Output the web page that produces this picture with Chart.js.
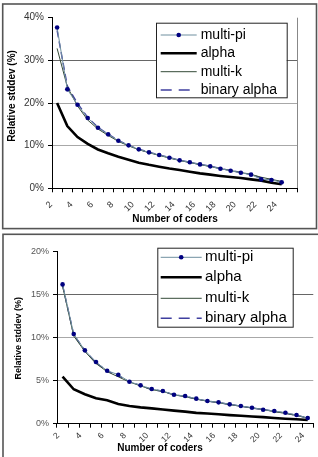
<!DOCTYPE html>
<html>
<head>
<meta charset="utf-8">
<script src="https://cdn.jsdelivr.net/npm/chart.js@4.4.1/dist/chart.umd.min.js"></script>
<style>
  html, body { margin: 0; padding: 0; background: #fff; }
  body { width: 318px; height: 457px; overflow: hidden; position: relative; }
  .box { position: absolute; left: 0; width: 318px; }
  #topBox { top: 0; height: 231px; }
  #bottomBox { top: 231px; height: 226px; }
  canvas { display: block; }
</style>
</head>
<body>
<div class="box" id="topBox"><canvas id="topChart" width="318" height="231"></canvas></div>
<div class="box" id="bottomBox"><canvas id="bottomChart" width="318" height="226"></canvas></div>
<script>
const FONT = "'Liberation Sans', Arial, sans-serif";

// top chart: categories 2..25, data for 2..24
const TOP_CODERS = ["2", "3", "4", "5", "6", "7", "8", "9", "10", "11", "12", "13",
  "14", "15", "16", "17", "18", "19", "20", "21", "22", "23", "24", "25"];
const TOP_MULTI_PI = [37.7, 23.2, 19.6, 16.5, 14.2, 12.65, 11.16, 10.07, 9.13, 8.43, 7.8, 7.17,
  6.55, 6.1, 5.6, 5.15, 4.6, 4.13, 3.66, 3.2, 2.1, 1.95, 1.4];
const TOP_ALPHA = [20.0, 14.6, 12.0, 10.4, 9.1, 8.2, 7.4, 6.7, 6.0, 5.5, 5.06, 4.65,
  4.3, 3.9, 3.5, 3.2, 2.9, 2.65, 2.4, 2.1, 1.8, 1.3, 0.95];
const TOP_MULTI_K = [32.8, 23.8, 19.3, 16.0, 13.9, 12.4, 11.0, 9.95, 9.05, 8.35, 7.7, 7.1,
  6.5, 6.05, 5.55, 5.1, 4.6, 4.15, 3.7, 3.25, 2.6, 2.1, 1.6];
const TOP_BINARY_ALPHA = [37.0, 24.0, 19.9, 16.6, 14.3, 12.7, 11.2, 10.1, 9.15, 8.45, 7.85, 7.2,
  6.6, 6.1, 5.6, 5.2, 4.65, 4.2, 3.7, 3.25, 2.4, 2.0, 1.45];

// bottom chart: categories 2..24
const BOTTOM_CODERS = ["2", "3", "4", "5", "6", "7", "8", "9", "10", "11", "12", "13",
  "14", "15", "16", "17", "18", "19", "20", "21", "22", "23", "24"];
const BOTTOM_MULTI_PI = [16.2, 10.43, 8.53, 7.17, 6.16, 5.7, 4.88, 4.46, 4.03, 3.8, 3.37, 3.22,
  2.91, 2.64, 2.48, 2.25, 2.06, 1.86, 1.63, 1.48, 1.28, 1.01, 0.66];
const BOTTOM_ALPHA = [5.47, 4.0, 3.42, 2.95, 2.72, 2.3, 2.05, 1.9, 1.78, 1.65, 1.52, 1.4,
  1.26, 1.18, 1.09, 1.0, 0.92, 0.83, 0.76, 0.66, 0.58, 0.51, 0.43];
const BOTTOM_MULTI_K = [16.0, 10.2, 8.4, 7.0, 6.05, 5.45, 4.85, 4.4, 3.95, 3.75, 3.35, 3.15,
  2.85, 2.62, 2.45, 2.22, 2.03, 1.82, 1.65, 1.4, 1.2, 0.95, 0.66];
const BOTTOM_BINARY_ALPHA = [16.1, 10.35, 8.5, 7.1, 6.12, 5.58, 4.87, 4.45, 3.98, 3.78, 3.35, 3.18,
  2.88, 2.63, 2.47, 2.24, 2.05, 1.83, 1.65, 1.44, 1.23, 0.97, 0.66];

const SERIES_NAMES = ["multi-pi", "alpha", "multi-k", "binary alpha"];
const Y_TITLE = "Relative stddev (%)";
const X_TITLE = "Number of coders";

// legend box, frame and axis titles drawn on top of the chart
const decorPlugin = {
  id: "decor",
  beforeDraw(chart, args, opts) {
    const ctx = chart.ctx;
    ctx.save();
    ctx.strokeStyle = "#555";
    ctx.lineWidth = 1.6;
    const f = opts.frame;
    ctx.strokeRect(f[0], f[1], f[2], f[3]);
    if (opts.plotRightBorder) {
      const a = chart.chartArea;
      ctx.strokeStyle = "#888";
      ctx.lineWidth = 1;
      ctx.beginPath();
      ctx.moveTo(a.right + 0.5, a.top);
      ctx.lineTo(a.right + 0.5, a.bottom);
      ctx.stroke();
    }
    ctx.restore();
  },
  afterDraw(chart, args, opts) {
    const ctx = chart.ctx;
    const lg = opts.legend;
    ctx.save();
    ctx.fillStyle = "#fff";
    ctx.fillRect(lg.left, lg.top, lg.width, lg.height);
    ctx.strokeStyle = "#222";
    ctx.lineWidth = 1;
    ctx.strokeRect(lg.left + 0.5, lg.top + 0.5, lg.width, lg.height);
    ctx.font = lg.fontSize + "px " + FONT;
    ctx.textBaseline = "middle";
    ctx.textAlign = "left";
    chart.data.datasets.forEach((ds, i) => {
      const y = lg.rows[i];
      ctx.strokeStyle = ds.borderColor;
      ctx.lineWidth = ds.borderWidth;
      ctx.setLineDash(ds.legendDash || []);
      ctx.beginPath();
      ctx.moveTo(lg.lineX0, y);
      ctx.lineTo(lg.lineX1, y);
      ctx.stroke();
      ctx.setLineDash([]);
      if (ds.pointRadius > 0) {
        ctx.fillStyle = ds.pointBackgroundColor;
        ctx.beginPath();
        ctx.arc((lg.lineX0 + lg.lineX1) / 2, y, ds.pointRadius, 0, Math.PI * 2);
        ctx.fill();
      }
      ctx.fillStyle = "#000";
      ctx.fillText(ds.label, lg.textX, y);
    });

    ctx.fillStyle = "#000";
    ctx.font = "bold " + opts.xTitle.size + "px " + FONT;
    ctx.textAlign = "center";
    ctx.fillText(X_TITLE, opts.xTitle.x, opts.xTitle.y);
    ctx.translate(opts.yTitle.x, opts.yTitle.y);
    ctx.rotate(-Math.PI / 2);
    ctx.font = "bold " + opts.yTitle.size + "px " + FONT;
    ctx.fillText(Y_TITLE, 0, 0);
    ctx.restore();
  }
};

function buildDatasets(piData, alphaData, kData, binData) {
  return [
    {
      label: SERIES_NAMES[0], data: piData,
      borderColor: "#6f8f9f", borderWidth: 1,
      pointRadius: 2.3, pointBackgroundColor: "#000080", pointBorderColor: "#000080",
      pointBorderWidth: 0, tension: 0
    },
    {
      label: SERIES_NAMES[1], data: alphaData,
      borderColor: "#000", borderWidth: 2.6, pointRadius: 0, tension: 0
    },
    {
      label: SERIES_NAMES[2], data: kData,
      borderColor: "#344a38", borderWidth: 1, pointRadius: 0, tension: 0
    },
    {
      label: SERIES_NAMES[3], data: binData,
      borderColor: "#3f3f9f", borderWidth: 1.4, borderDash: [7, 4], legendDash: [11, 7],
      pointRadius: 0, tension: 0
    }
  ];
}

function makeChart(canvasId, cfg) {
  const ctx = document.getElementById(canvasId).getContext("2d");
  return new Chart(ctx, {
    type: "line",
    data: { labels: cfg.labels, datasets: cfg.datasets },
    plugins: [decorPlugin],
    options: {
      responsive: false,
      animation: false,
      devicePixelRatio: 1,
      layout: { padding: cfg.padding },
      plugins: {
        legend: { display: false },
        tooltip: { enabled: false },
        decor: cfg.decor
      },
      scales: {
        x: {
          type: "category",
          offset: true,
          grid: { offset: true, drawOnChartArea: false, tickLength: 4, color: "#000", tickColor: "#000" },
          border: { color: "#000", width: 1 },
          ticks: {
            autoSkip: false, minRotation: 45, maxRotation: 45,
            padding: cfg.xTickPadding, labelOffset: cfg.xLabelOffset,
            color: "#333", font: { family: FONT, size: cfg.xTickSize },
            callback: function (value, index) {
              return index % 2 === 0 ? this.getLabelForValue(value) : "";
            }
          },
          afterFit: (scale) => { scale.height = cfg.xAxisHeight; }
        },
        y: {
          min: 0, max: cfg.yMax,
          grid: {
            tickLength: 4, tickColor: "#000",
            color: (c) => {
              const v = c.tick ? c.tick.value : null;
              if (v === 0 || v === cfg.yMax) return "rgba(0,0,0,0)";
              return v === cfg.darkLine ? "#666" : "#a8a8a8";
            }
          },
          border: { color: "#000", width: 1 },
          ticks: {
            stepSize: cfg.yStep, padding: 4, color: cfg.yTickColor,
            font: { family: FONT, size: cfg.yTickSize },
            callback: (v) => v + "%"
          },
          afterFit: (scale) => { scale.width = cfg.yAxisWidth; }
        }
      }
    }
  });
}

makeChart("topChart", {
  labels: TOP_CODERS,
  datasets: buildDatasets(TOP_MULTI_PI, TOP_ALPHA, TOP_MULTI_K, TOP_BINARY_ALPHA),
  padding: { top: 17.7, right: 21, bottom: 0, left: 0 },
  yAxisWidth: 52, xAxisHeight: 42.7,
  yMax: 40, yStep: 10, darkLine: 30,
  yTickSize: 10, yTickColor: "#333",
  xTickSize: 9, xTickPadding: 7, xLabelOffset: -6,
  decor: {
    frame: [2.7, 4, 313.8, 224.6],
    plotRightBorder: true,
    legend: { left: 156, top: 22.7, width: 130.7, height: 74.6, fontSize: 14,
      lineX0: 160.7, lineX1: 196.7, textX: 200.7, rows: [35, 53.3, 71.7, 90] },
    xTitle: { x: 175, y: 219, size: 10 },
    yTitle: { x: 12, y: 96, size: 10 }
  }
});

makeChart("bottomChart", {
  labels: BOTTOM_CODERS,
  datasets: buildDatasets(BOTTOM_MULTI_PI, BOTTOM_ALPHA, BOTTOM_MULTI_K, BOTTOM_BINARY_ALPHA),
  padding: { top: 20.7, right: 1, bottom: 0, left: 0 },
  yAxisWidth: 57, xAxisHeight: 33.3,
  yMax: 20, yStep: 5, darkLine: 15,
  yTickSize: 9, yTickColor: "#555",
  xTickSize: 8.5, xTickPadding: 3, xLabelOffset: -4.5,
  decor: {
    frame: [3, 3.3, 330, 240],
    plotRightBorder: false,
    legend: { left: 157.3, top: 16.7, width: 135.4, height: 79, fontSize: 15,
      lineX0: 160.7, lineX1: 201.7, textX: 205, rows: [26.3, 46.3, 67.3, 87.3] },
    xTitle: { x: 160, y: 217.3, size: 10 },
    yTitle: { x: 19, y: 107.3, size: 9 }
  }
});
</script>
</body>
</html>
